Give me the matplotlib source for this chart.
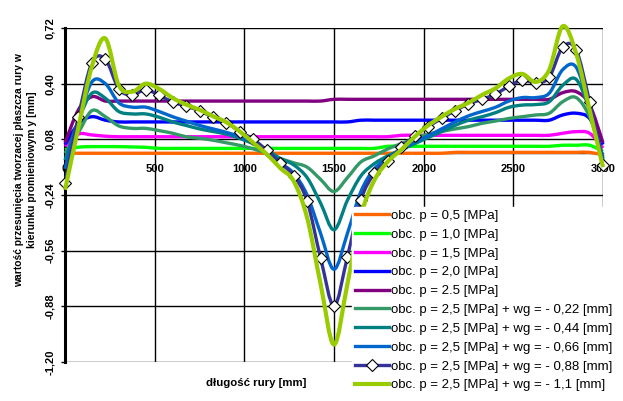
import matplotlib
matplotlib.use("Agg")
import matplotlib.pyplot as plt
import matplotlib as mp
from matplotlib.path import Path
from matplotlib.patches import PathPatch
from matplotlib.lines import Line2D

plt.rcParams['font.family'] = ['Liberation Sans', 'DejaVu Sans']

# polozenie wzdluz rury [mm], punkty co 75 mm
dlugosc = list(range(0, 3001, 75))

p05 = [0.00, 0.00, 0.00, 0.00, 0.00, 0.00, 0.00, 0.00, 0.00, 0.00,
       0.00, 0.00, 0.00, 0.00, 0.00, 0.00, 0.00, 0.00, 0.00, 0.00,
       0.00, 0.00, 0.00, 0.00, 0.00, 0.00, 0.00, 0.00, 0.00, 0.005,
       0.005, 0.005, 0.005, 0.005, 0.005, 0.005, 0.005, 0.005, 0.005, 0.005,
       -0.01]
p10 = [0.02, 0.035, 0.038, 0.038, 0.038, 0.036, 0.034, 0.028, 0.028, 0.028,
       0.028, 0.028, 0.028, 0.028, 0.028, 0.028, 0.028, 0.028, 0.028, 0.028,
       0.028, 0.028, 0.028, 0.028, 0.04, 0.04, 0.04, 0.04, 0.04, 0.04,
       0.04, 0.04, 0.04, 0.04, 0.04, 0.04, 0.04, 0.046, 0.046, 0.046,
       0.01]
p15 = [0.04, 0.11, 0.105, 0.098, 0.095, 0.095, 0.095, 0.095, 0.095, 0.095,
       0.095, 0.095, 0.095, 0.095, 0.095, 0.095, 0.095, 0.095, 0.095, 0.095,
       0.095, 0.095, 0.095, 0.095, 0.095, 0.103, 0.103, 0.103, 0.103, 0.103,
       0.103, 0.103, 0.103, 0.103, 0.103, 0.103, 0.103, 0.115, 0.124, 0.115,
       0.03]
p20 = [0.05, 0.17, 0.21, 0.19, 0.18, 0.18, 0.18, 0.18, 0.18, 0.18,
       0.18, 0.18, 0.18, 0.18, 0.18, 0.18, 0.18, 0.18, 0.18, 0.18,
       0.18, 0.18, 0.19, 0.19, 0.19, 0.19, 0.19, 0.19, 0.19, 0.19,
       0.19, 0.19, 0.19, 0.19, 0.19, 0.19, 0.19, 0.22, 0.23, 0.20,
       0.05]
p25 = [0.06, 0.25, 0.325, 0.30, 0.30, 0.30, 0.30, 0.30, 0.30, 0.30,
       0.30, 0.30, 0.30, 0.30, 0.30, 0.30, 0.30, 0.30, 0.30, 0.30,
       0.31, 0.31, 0.31, 0.31, 0.31, 0.31, 0.31, 0.31, 0.31, 0.31,
       0.31, 0.31, 0.31, 0.31, 0.31, 0.31, 0.31, 0.348, 0.354, 0.28,
       0.06]
wg022 = [0.00, 0.12, 0.245, 0.21, 0.157, 0.143, 0.143, 0.13, 0.115, 0.095,
         0.086, 0.075, 0.06, 0.045, 0.025, 0.00, -0.03, -0.055, -0.08, -0.15,
         -0.22, -0.14, -0.05, -0.015, 0.025, 0.055, 0.085, 0.11, 0.125, 0.14,
         0.153, 0.172, 0.185, 0.20, 0.21, 0.22, 0.23, 0.296, 0.32, 0.21,
         -0.02]
wg044 = [-0.04, 0.19, 0.345, 0.316, 0.24, 0.226, 0.226, 0.207, 0.18, 0.16,
         0.14, 0.125, 0.11, 0.085, 0.055, 0.02, -0.03, -0.067, -0.14, -0.286,
         -0.44, -0.27, -0.13, -0.06, -0.015, 0.02, 0.055, 0.09, 0.125, 0.16,
         0.19, 0.21, 0.233, 0.264, 0.277, 0.28, 0.296, 0.39, 0.425, 0.25,
         -0.03]
wg066 = [-0.09, 0.19, 0.41, 0.40, 0.29, 0.265, 0.265, 0.24, 0.21, 0.185,
         0.16, 0.14, 0.12, 0.095, 0.06, 0.01, -0.056, -0.115, -0.24, -0.46,
         -0.667, -0.46, -0.22, -0.09, -0.03, 0.02, 0.065, 0.10, 0.14, 0.18,
         0.215, 0.24, 0.264, 0.30, 0.32, 0.32, 0.345, 0.48, 0.495, 0.26,
         -0.04]
wg088 = [-0.17, 0.21, 0.52, 0.54, 0.37, 0.335, 0.366, 0.333, 0.295, 0.27,
         0.245, 0.207, 0.176, 0.125, 0.08, 0.017, -0.056, -0.128, -0.274, -0.60,
         -0.878, -0.594, -0.268, -0.115, -0.044, 0.034, 0.10, 0.153, 0.20, 0.245,
         0.283, 0.31, 0.34, 0.385, 0.42, 0.405, 0.437, 0.61, 0.594, 0.296,
         -0.065]
wg110 = [-0.21, 0.15, 0.50, 0.66, 0.39, 0.354, 0.40, 0.37, 0.318, 0.28,
         0.25, 0.213, 0.178, 0.125, 0.06, -0.005, -0.085, -0.16, -0.37, -0.75,
         -1.10, -0.75, -0.36, -0.155, -0.048, 0.02, 0.095, 0.16, 0.21, 0.255,
         0.29, 0.335, 0.373, 0.43, 0.456, 0.41, 0.479, 0.73, 0.575, 0.25,
         -0.08]

etykiety = ['obc. p = 0,5 [MPa]', 'obc. p = 1,0 [MPa]', 'obc. p = 1,5 [MPa]',
            'obc. p = 2,0 [MPa]', 'obc. p = 2.5 [MPa]',
            'obc. p = 2,5 [MPa] + wg = - 0,22 [mm]',
            'obc. p = 2,5 [MPa] + wg = - 0,44 [mm]',
            'obc. p = 2,5 [MPa] + wg = - 0,66 [mm]',
            'obc. p = 2,5 [MPa] + wg = - 0,88 [mm]',
            'obc. p = 2,5 [MPa] + wg = - 1,1 [mm]']
serie = [p05, p10, p15, p20, p25, wg022, wg044, wg066, wg088, wg110]
kolory = ['#FF6600', '#00FF00', '#FF00FF', '#0000FF', '#800080',
          '#339966', '#008080', '#0066CC', '#333399', '#99CC00']

yTicks = [-1.20, -0.88, -0.56, -0.24, 0.08, 0.40, 0.72]
xTicks = [0, 500, 1000, 1500, 2000, 2500, 3000]


def smoothPath(x, y):
    # wygladzona linia jak w Excelu (krzywe Beziera przez punkty pomiarowe)
    n = len(x)
    verts = [(x[0], y[0])]
    codes = [Path.MOVETO]
    for i in range(n - 1):
        i0 = max(i - 1, 0)
        i3 = min(i + 2, n - 1)
        c1 = (x[i] + (x[i + 1] - x[i0]) / 6.0, y[i] + (y[i + 1] - y[i0]) / 6.0)
        c2 = (x[i + 1] - (x[i3] - x[i]) / 6.0, y[i + 1] - (y[i3] - y[i]) / 6.0)
        verts += [c1, c2, (x[i + 1], y[i + 1])]
        codes += [Path.CURVE4] * 3
    return Path(verts, codes)


def setUpAxes(fig):
    ax = fig.add_axes([65/623, 39/401, 538/623, 334/401])
    ax.set_xlim(0, 3000)
    ax.set_ylim(-1.20, 0.72)
    ax.set_yticks(yTicks)
    ax.set_xticks(xTicks)
    ax.yaxis.set_major_formatter(mp.ticker.FuncFormatter(
        lambda v, pos: ("%.2f" % v).replace('.', ',')))
    ax.grid(True, color='black', linewidth=1.0)
    ax.set_axisbelow(True)
    for s in ['top', 'right']:
        ax.spines[s].set_visible(False)
    ax.spines['left'].set_linewidth(2.2)
    ax.spines['left'].set_zorder(0.5)
    ax.spines['bottom'].set_position(('data', 0))
    ax.spines['bottom'].set_linewidth(1.0)
    ax.spines['bottom'].set_zorder(0.5)
    ax.tick_params(axis='y', length=3, width=1, pad=4, labelsize=8)
    ax.tick_params(axis='x', length=0, pad=8, labelsize=8)
    for t in ax.get_yticklabels():
        t.set_rotation(90)
        t.set_va('center')
        t.set_fontweight('bold')
    for t in ax.get_xticklabels():
        t.set_fontweight('bold')
    return ax


def createGraph():
    fig = plt.figure(figsize=(6.23, 4.01), dpi=100)
    ax = setUpAxes(fig)
    handles = []
    for i, y in enumerate(serie):
        lw = 3.0 if i == 9 else 2.4
        patch = PathPatch(smoothPath(dlugosc, y), facecolor='none', edgecolor=kolory[i],
                          linewidth=lw, joinstyle='round', capstyle='butt',
                          clip_on=False, zorder=2 + i)
        ax.add_patch(patch)
        if i == 8:
            ax.plot(dlugosc, y, linestyle='none', marker='D', markersize=6.5,
                    markerfacecolor='white', markeredgecolor='black',
                    markeredgewidth=0.8, clip_on=False, zorder=2 + i + 0.5)
            handles.append(Line2D([], [], color=kolory[i], linewidth=lw, marker='D',
                                  markersize=6.5, markerfacecolor='white',
                                  markeredgecolor='black', markeredgewidth=0.8))
        else:
            handles.append(Line2D([], [], color=kolory[i], linewidth=lw))

    leg = fig.legend(handles, etykiety, loc='upper left',
                     bbox_to_anchor=(352/623, 1 - 207/401),
                     frameon=True, fontsize=9.5, handlelength=2.6, handletextpad=0.15,
                     labelspacing=0.5, borderpad=0.2, borderaxespad=0)
    leg.get_frame().set_facecolor('white')
    leg.get_frame().set_edgecolor('white')
    leg.get_frame().set_alpha(1)

    fig.text(256/623, 1 - 383/401, 'długość rury [mm]', ha='center', va='center',
             fontsize=8.2, fontweight='bold')
    fig.text(25.5/623, 1 - 170/401,
             'wartość przesunięcia tworzacej płaszcza rury w\nkierunku promieniowym y [mm]',
             ha='center', va='center', rotation=90, fontsize=7.4, fontweight='bold',
             multialignment='center', linespacing=1.45)
    fig.savefig('out.png', dpi=100)


createGraph()
